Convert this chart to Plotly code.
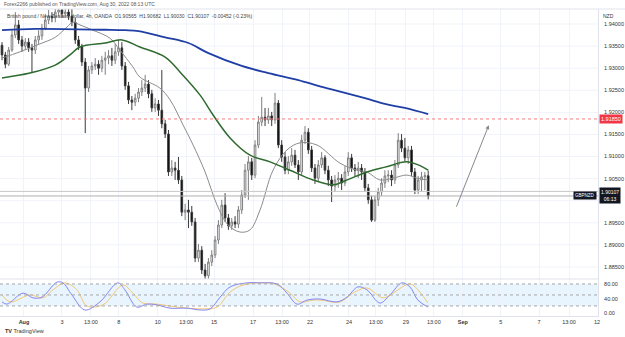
import plotly.graph_objects as go

# ---------------- data ----------------
idx = list(range(129))
opens = [1.9352, 1.9330, 1.9309, 1.9341, 1.9375, 1.9398, 1.9364, 1.9350, 1.9359, 1.9346,
 1.9341, 1.9364, 1.9373, 1.9391, 1.9409, 1.9418, 1.9414, 1.9427, 1.9432, 1.9423,
 1.9427, 1.9418, 1.9404, 1.9364, 1.9350, 1.9314, 1.9255, 1.9296, 1.9305, 1.9309,
 1.9300, 1.9318, 1.9323, 1.9328, 1.9318, 1.9337, 1.9346, 1.9305, 1.9260, 1.9228,
 1.9223, 1.9232, 1.9246, 1.9255, 1.9264, 1.9242, 1.9210, 1.9219, 1.9205, 1.9174,
 1.9151, 1.9065, 1.9074, 1.9069, 1.9047, 1.8974, 1.8979, 1.8974, 1.8952, 1.8870,
 1.8888, 1.8843, 1.8830, 1.8861, 1.8877, 1.8911, 1.8945, 1.8990, 1.8961, 1.8943,
 1.8952, 1.8947, 1.8979, 1.9013, 1.9069, 1.9088, 1.9058, 1.9126, 1.9178, 1.9189,
 1.9183, 1.9192, 1.9183, 1.9221, 1.9126, 1.9099, 1.9069, 1.9088, 1.9103, 1.9081,
 1.9065, 1.9137, 1.9155, 1.9115, 1.9074, 1.9051, 1.9081, 1.9097, 1.9069, 1.9047,
 1.9033, 1.9047, 1.9051, 1.9040, 1.9065, 1.9097, 1.9074, 1.9069, 1.9074, 1.9065,
 1.9029, 1.9002, 1.8956, 1.9002, 1.9020, 1.9040, 1.9056, 1.9058, 1.9047, 1.9081,
 1.9137, 1.9119, 1.9097, 1.9115, 1.9065, 1.9024, 1.9047, 1.9054, 1.90565]
highs = [1.9359, 1.9337, 1.9348, 1.9386, 1.9427, 1.9409, 1.9373, 1.9368, 1.9368, 1.9355,
 1.9373, 1.9386, 1.9400, 1.9423, 1.9432, 1.9427, 1.9441, 1.9443, 1.9441, 1.9436,
 1.9436, 1.9445, 1.9414, 1.9373, 1.9355, 1.9323, 1.9305, 1.9314, 1.9323, 1.9318,
 1.9328, 1.9337, 1.9341, 1.9346, 1.9355, 1.9364, 1.9359, 1.9314, 1.9269, 1.9237,
 1.9242, 1.9255, 1.9273, 1.9285, 1.9273, 1.9251, 1.9232, 1.9228, 1.9296, 1.9183,
 1.9160, 1.9092, 1.9088, 1.9099, 1.9056, 1.8993, 1.9002, 1.8988, 1.8961, 1.8902,
 1.8897, 1.8857, 1.8870, 1.8888, 1.8920, 1.8956, 1.9002, 1.9017, 1.8970, 1.8961,
 1.8965, 1.8988, 1.9024, 1.9083, 1.9101, 1.9097, 1.9137, 1.9192, 1.9235, 1.9210,
 1.9210, 1.9201, 1.9244, 1.9228, 1.9137, 1.9110, 1.9101, 1.9119, 1.9115, 1.9092,
 1.9149, 1.9169, 1.9164, 1.9124, 1.9083, 1.9092, 1.9110, 1.9103, 1.9079, 1.9056,
 1.9058, 1.9065, 1.9060, 1.9079, 1.9110, 1.9106, 1.9083, 1.9088, 1.9083, 1.9074,
 1.9038, 1.9011, 1.9011, 1.9029, 1.9051, 1.9069, 1.9069, 1.9069, 1.9092, 1.9153,
 1.9151, 1.9142, 1.9124, 1.9124, 1.9074, 1.9056, 1.9065, 1.9065, 1.90682]
lows = [1.9318, 1.9300, 1.9305, 1.9337, 1.9368, 1.9355, 1.9337, 1.9341, 1.9337, 1.9289,
 1.9332, 1.9355, 1.9364, 1.9386, 1.9400, 1.9404, 1.9404, 1.9418, 1.9414, 1.9414,
 1.9409, 1.9395, 1.9355, 1.9341, 1.9305, 1.9153, 1.9246, 1.9287, 1.9296, 1.9285,
 1.9291, 1.9285, 1.9309, 1.9305, 1.9309, 1.9328, 1.9296, 1.9251, 1.9219, 1.9205,
 1.9214, 1.9223, 1.9237, 1.9246, 1.9232, 1.9201, 1.9201, 1.9192, 1.9164, 1.9142,
 1.9056, 1.9056, 1.9047, 1.9038, 1.8965, 1.8956, 1.8938, 1.8943, 1.8861, 1.8861,
 1.8834, 1.8823, 1.8823, 1.8852, 1.8870, 1.8902, 1.8938, 1.8952, 1.8934, 1.8934,
 1.8938, 1.8938, 1.8970, 1.9006, 1.9002, 1.9047, 1.9051, 1.9119, 1.9169, 1.9169,
 1.9174, 1.9169, 1.9174, 1.9119, 1.9088, 1.9060, 1.9060, 1.9079, 1.9074, 1.9047,
 1.9056, 1.9128, 1.9106, 1.9065, 1.9038, 1.9042, 1.9074, 1.9060, 1.9033, 1.8997,
 1.9020, 1.9029, 1.9024, 1.9033, 1.9056, 1.9065, 1.9056, 1.9051, 1.9047, 1.9020,
 1.8993, 1.8952, 1.8952, 1.8988, 1.9011, 1.9029, 1.9042, 1.9033, 1.9038, 1.9074,
 1.9110, 1.9088, 1.9083, 1.9056, 1.9015, 1.9015, 1.9020, 1.9024, 1.90030]
closes = [1.9330, 1.9309, 1.9341, 1.9375, 1.9398, 1.9364, 1.9350, 1.9359, 1.9346, 1.9341,
 1.9364, 1.9373, 1.9391, 1.9409, 1.9418, 1.9414, 1.9427, 1.9432, 1.9423, 1.9427,
 1.9418, 1.9404, 1.9364, 1.9350, 1.9314, 1.9255, 1.9296, 1.9305, 1.9309, 1.9300,
 1.9318, 1.9323, 1.9328, 1.9318, 1.9337, 1.9346, 1.9305, 1.9260, 1.9228, 1.9223,
 1.9232, 1.9246, 1.9255, 1.9264, 1.9242, 1.9210, 1.9219, 1.9205, 1.9174, 1.9151,
 1.9065, 1.9074, 1.9069, 1.9047, 1.8974, 1.8979, 1.8974, 1.8952, 1.8870, 1.8888,
 1.8843, 1.8830, 1.8861, 1.8877, 1.8911, 1.8945, 1.8990, 1.8961, 1.8943, 1.8952,
 1.8947, 1.8979, 1.9013, 1.9069, 1.9088, 1.9058, 1.9126, 1.9178, 1.9189, 1.9183,
 1.9192, 1.9183, 1.9221, 1.9126, 1.9099, 1.9069, 1.9088, 1.9103, 1.9081, 1.9065,
 1.9137, 1.9155, 1.9115, 1.9074, 1.9051, 1.9081, 1.9097, 1.9069, 1.9047, 1.9033,
 1.9047, 1.9051, 1.9040, 1.9065, 1.9097, 1.9074, 1.9069, 1.9074, 1.9065, 1.9029,
 1.9002, 1.8956, 1.9002, 1.9020, 1.9040, 1.9056, 1.9058, 1.9047, 1.9081, 1.9137,
 1.9119, 1.9097, 1.9115, 1.9065, 1.9024, 1.9047, 1.9054, 1.90565, 1.90107]

ma200_x = [0, 10, 31, 37, 41, 49, 56, 62, 72, 80, 89, 95, 101, 109, 115, 121, 128]
ma200_y = [1.9386, 1.9389, 1.9387, 1.9386, 1.9384, 1.9370, 1.9357, 1.9334, 1.9305, 1.9289,
           1.9273, 1.9260, 1.9248, 1.9232, 1.9219, 1.9210, 1.9196]
ma50_x = [0, 8.4, 16, 20.4, 23.4, 31, 36, 41.4, 49, 53.5, 59.5, 63.4, 68.5, 74.5, 80.5,
          86.5, 93.4, 99.5, 103, 109.6, 115, 121.6, 125, 128]
ma50_y = [1.9278, 1.9289, 1.9307, 1.9330, 1.9348, 1.9357, 1.9364, 1.9348, 1.9325, 1.9291,
          1.9239, 1.9194, 1.9142, 1.9103, 1.9088, 1.9069, 1.9047, 1.9036, 1.9045, 1.9065,
          1.9076, 1.9088, 1.9081, 1.9069]
ma20_x = [0, 5.4, 11.4, 16, 19.5, 21.3, 23.4, 27.3, 32.4, 35.4, 39.3, 41.4, 47.4, 50.5, 54.4,
          57.4, 61, 64.6, 67.9, 71.5, 74.5, 77.5, 81.4, 85.6, 89.5, 94.6, 101.5, 106.6,
          109.6, 113.5, 117.4, 121.6, 124.6, 128]
ma20_y = [1.9323, 1.9337, 1.9355, 1.9370, 1.9393, 1.9404, 1.9398, 1.9386, 1.9368, 1.9341,
          1.9303, 1.9280, 1.9255, 1.9228, 1.9171, 1.9126, 1.9065, 1.8990, 1.8945, 1.8929,
          1.8934, 1.8979, 1.9069, 1.9115, 1.9131, 1.9126, 1.9085, 1.9069, 1.9065, 1.9047,
          1.9051, 1.9058, 1.9051, 1.9047]

k_x = [0, 1.5, 6.3, 9.3, 12, 16.5, 18.3, 21, 24.9, 29.4, 34.8, 36.9, 40.5, 43.5, 46.5, 50.5,
       55.6, 59.5, 62.5, 65.5, 68.5, 73.6, 77.5, 82.6, 85.6, 88.6, 91.6, 95.5, 100.6, 103.6,
       106.9, 109.6, 113.5, 116.5, 120.1, 122.5, 124.9, 127.9]
k_y = [31, 25, 55, 42, 44, 85, 83, 50, 9, 31, 83, 64, 17, 25, 23, 14, 14, 9, 12, 44, 72, 83,
       83, 80, 55, 25, 36, 39, 31, 44, 72, 64, 28, 50, 83, 72, 36, 17]
d_x = [0, 2.4, 8.4, 12.3, 15.3, 18.9, 22.5, 25.5, 30.3, 36.3, 39.3, 42.3, 46.5, 52.6, 60.4,
       64.6, 68.5, 72.4, 79.6, 82.6, 86.5, 89.5, 93.4, 95.5, 101.5, 105.4, 109.6, 114.4,
       117.4, 122.5, 125.5, 127.9]
d_y = [50, 31, 50, 42, 64, 83, 64, 20, 23, 77, 55, 28, 25, 17, 12, 17, 58, 77, 83, 77, 55,
       31, 36, 36, 31, 55, 69, 42, 55, 80, 58, 28]

tick_pos = [6.6, 18.0, 26.7, 35.1, 46.8, 55.3, 63.7, 75.4, 84.1, 92.5, 104.2, 112.3, 121.3,
            129.7, 138.4, 149.8, 161.3, 170.3, 178.7]
tick_txt = ["<b>Aug</b>", "3", "13:00", "8", "10", "13:00", "15", "17", "13:00", "22", "24",
            "13:00", "29", "13:00", "<b>Sep</b>", "5", "7", "13:00", "12"]
price_grid = [1.885, 1.890, 1.895, 1.900, 1.905, 1.910, 1.915, 1.920, 1.925, 1.930, 1.935, 1.940]
price_labels = [1.885, 1.890, 1.895, 1.905, 1.910, 1.915, 1.920, 1.925, 1.930, 1.935, 1.940]
resistance = 1.91850
last_close = 1.90107
prev_line = 1.9021
arrow_from = (136.3, 1.8983)
arrow_to = (146.2, 1.9171)

# ---------------- figure ----------------
FONT = "Liberation Sans, Arial, sans-serif"
fig = go.Figure()

fig.add_trace(go.Candlestick(
    x=idx, open=opens, high=highs, low=lows, close=closes,
    increasing=dict(fillcolor="#ffffff", line=dict(color="#7f7f7f", width=1)),
    decreasing=dict(fillcolor="#000000", line=dict(color="#3a3a3a", width=1)),
    whiskerwidth=0, showlegend=False, hoverinfo="skip", xaxis="x", yaxis="y"))

fig.add_trace(go.Scatter(x=ma20_x, y=ma20_y, mode="lines", line=dict(color="#8c8c8c", width=1, shape="spline"),
                         showlegend=False, hoverinfo="skip", yaxis="y"))
fig.add_trace(go.Scatter(x=ma50_x, y=ma50_y, mode="lines", line=dict(color="#2f6b2f", width=1.5, shape="spline"),
                         showlegend=False, hoverinfo="skip", yaxis="y"))
fig.add_trace(go.Scatter(x=ma200_x, y=ma200_y, mode="lines", line=dict(color="#1f3fa6", width=1.8, shape="spline"),
                         showlegend=False, hoverinfo="skip", yaxis="y"))

fig.add_trace(go.Scatter(x=d_x, y=d_y, mode="lines", line=dict(color="#f5c66e", width=1, shape="spline"),
                         showlegend=False, hoverinfo="skip", yaxis="y2"))
fig.add_trace(go.Scatter(x=k_x, y=k_y, mode="lines", line=dict(color="#8585f5", width=1, shape="spline"),
                         showlegend=False, hoverinfo="skip", yaxis="y2"))

shapes = []
# price grid lines
for pv in price_grid:
    shapes.append(dict(type="line", xref="paper", yref="y", x0=0, x1=1, y0=pv, y1=pv,
                       line=dict(color="#f0f3fa", width=1), layer="below"))
# stochastic band
shapes.append(dict(type="rect", xref="paper", yref="y2", x0=0, x1=1, y0=20, y1=80,
                   fillcolor="rgba(33,150,243,0.10)", line=dict(width=0), layer="below"))
for lv in (20, 50, 80):
    shapes.append(dict(type="line", xref="paper", yref="y2", x0=0, x1=1, y0=lv, y1=lv,
                       line=dict(color="#a8a8a8", width=1, dash="dot")))
# pane separator
shapes.append(dict(type="line", xref="paper", yref="paper", x0=0, x1=1, y0=0.1205, y1=0.1205,
                   line=dict(color="#e0e3eb", width=1)))
# horizontal lines
shapes.append(dict(type="line", xref="paper", yref="y", x0=0, x1=1, y0=resistance, y1=resistance,
                   line=dict(color="#f77c80", width=1, dash="dot")))
shapes.append(dict(type="line", xref="paper", yref="y", x0=0, x1=1, y0=prev_line, y1=prev_line,
                   line=dict(color="#c8c8c8", width=1)))
shapes.append(dict(type="line", xref="paper", yref="y", x0=0, x1=1, y0=last_close, y1=last_close,
                   line=dict(color="#b0b0b0", width=1)))
# top frame
shapes.append(dict(type="line", xref="paper", yref="paper", x0=0, x1=1.05, y0=1, y1=1,
                   line=dict(color="#e0e3eb", width=1)))

annotations = []
annotations.append(dict(x=arrow_to[0], y=arrow_to[1], ax=arrow_from[0], ay=arrow_from[1],
                        xref="x", yref="y", axref="x", ayref="y", showarrow=True,
                        arrowhead=2, arrowsize=0.8, arrowwidth=1, arrowcolor="#888888", text=""))
annotations.append(dict(x=1, y=resistance, xref="paper", yref="y", xanchor="left", yanchor="middle",
                        text="1.91850", showarrow=False, bgcolor="#f23645",
                        font=dict(color="white", size=5.5, family=FONT), borderpad=1, xshift=1))
annotations.append(dict(x=1, y=last_close, xref="paper", yref="y", xanchor="left", yanchor="middle",
                        text="1.90107<br>06:13", showarrow=False, bgcolor="#131722",
                        font=dict(color="white", size=5, family=FONT), borderpad=1, xshift=1))
annotations.append(dict(x=1, y=last_close, xref="paper", yref="y", xanchor="right", yanchor="middle",
                        text="GBPNZD", showarrow=False, bgcolor="#131722",
                        font=dict(color="white", size=4.5, family=FONT), borderpad=1, xshift=-1))
annotations.append(dict(x=1, y=1, xref="paper", yref="paper", xanchor="left", yanchor="top",
                        text="NZD", showarrow=False, font=dict(color="#333", size=5, family=FONT),
                        xshift=3, yshift=-2))
annotations.append(dict(x=0, y=1, xref="paper", yref="paper", xanchor="left", yanchor="bottom",
                        text="Forex2266 published on TradingView.com, Aug 30, 2022 08:13 UTC",
                        showarrow=False, font=dict(color="#555", size=5, family=FONT), xshift=2, yshift=0))
annotations.append(dict(x=0, y=1, xref="paper", yref="paper", xanchor="left", yanchor="top",
                        text="British pound / New Zealand dollar, 4h, OANDA  O1.90565  H1.90682  L1.90030  C1.90107  -0.00452 (-0.23%)",
                        showarrow=False, font=dict(color="#444", size=5, family=FONT), xshift=5, yshift=-2))
annotations.append(dict(x=0, y=0, xref="paper", yref="paper", xanchor="left", yanchor="top",
                        text="<b>TV</b> TradingView", showarrow=False,
                        font=dict(color="#333", size=5.5, family=FONT), xshift=3, yshift=-10))

fig.update_layout(
    width=625, height=337, margin=dict(l=0, r=27, t=9, b=21),
    paper_bgcolor="white", plot_bgcolor="white",
    font=dict(family=FONT, size=5.5, color="#333"),
    shapes=shapes, annotations=annotations,
    xaxis=dict(range=[-0.6, 179], anchor="y2", tickvals=tick_pos, ticktext=tick_txt,
               showgrid=True, gridcolor="#f0f3fa", gridwidth=1, zeroline=False,
               rangeslider=dict(visible=False), ticks="", tickfont=dict(size=5.5, color="#333"),
               ticklabelstandoff=0, showline=True, linecolor="#e0e3eb", fixedrange=True),
    yaxis=dict(domain=[0.1205, 1], range=[1.88227, 1.94340], side="right", tickvals=price_labels,
               tickformat=".5f", showgrid=False, zeroline=False, ticks="",
               ticklabelstandoff=4, tickfont=dict(size=5.5, color="#333"),
               showline=True, linecolor="#e0e3eb"),
    yaxis2=dict(domain=[0, 0.1205], range=[-7.4, 93.5], side="right", tickvals=[0, 40, 80],
                ticktext=["0.00", "40.00", "80.00"], showgrid=False, zeroline=False, ticks="",
                ticklabelstandoff=4, tickfont=dict(size=5.5, color="#333"),
                showline=True, linecolor="#e0e3eb", anchor="x"),
)

fig.write_html("out.html")
